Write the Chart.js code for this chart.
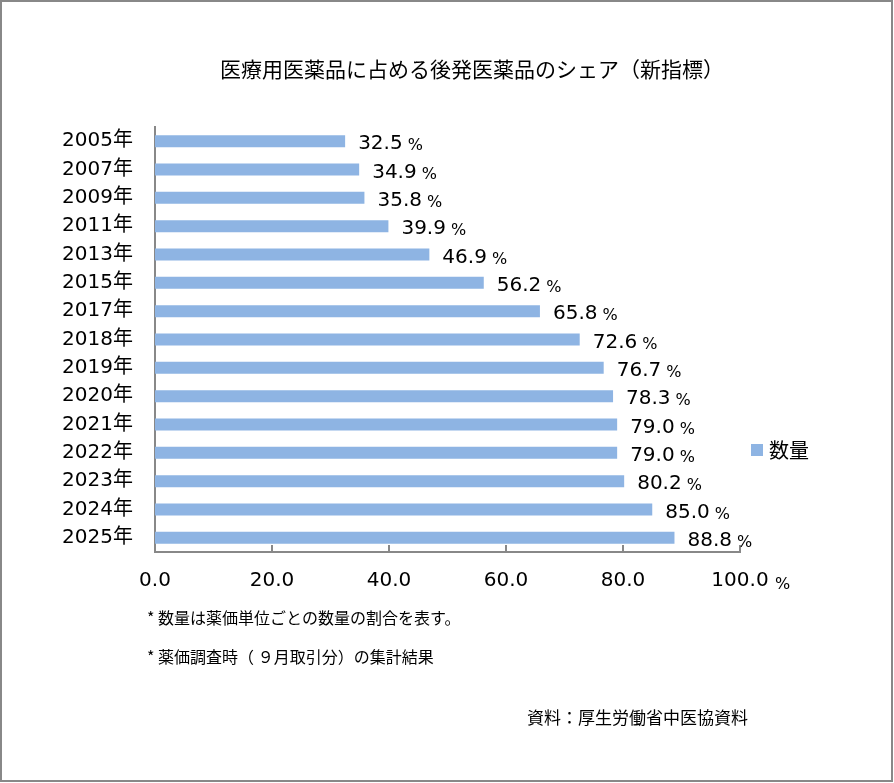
<!DOCTYPE html>
<html>
<head>
  <meta charset="UTF-8" />
  <title>医療用医薬品に占める後発医薬品のシェア</title>
  <script src="https://cdn.jsdelivr.net/npm/chart.js"></script>
  <style>
    body {
      margin: 0;
      background: #fff;
    }
    canvas {
      display: block;
    }
  </style>
</head>
<body>
  <canvas id="share" width="894" height="783"></canvas>

  <script>
    const years = ['2005年', '2007年', '2009年', '2011年', '2013年', '2015年', '2017年', '2018年',
                   '2019年', '2020年', '2021年', '2022年', '2023年', '2024年', '2025年'];
    const shares = [32.5, 34.9, 35.8, 39.9, 46.9, 56.2, 65.8, 72.6, 76.7, 78.3, 79.0, 79.0, 80.2, 85.0, 88.8];
    const xTicks = [0, 20, 40, 60, 80, 100];

    const titleText = '医療用医薬品に占める後発医薬品のシェア（新指標）';
    const notes = ['* 数量は薬価単位ごとの数量の割合を表す。', '* 薬価調査時（ ９月取引分）の集計結果'];
    const sourceText = '資料：厚生労働省中医協資料';
    const seriesName = '数量';

    const JP = '"Noto Sans CJK JP", sans-serif';
    const NUM = '"DejaVu Sans", "Noto Sans CJK JP", sans-serif';
    const barColor = '#8eb4e3';

    // frame, title, notes, legend, value labels, inner ticks
    const extras = {
      id: 'extras',
      beforeDraw(chart) {
        const ctx = chart.ctx;
        ctx.save();
        ctx.fillStyle = '#fff';
        ctx.fillRect(0, 0, chart.width, chart.height);
        ctx.restore();
      },
      afterDraw(chart) {
        const ctx = chart.ctx;
        const xs = chart.scales.x;
        const area = chart.chartArea;
        ctx.save();

        // inner tick marks on x axis
        ctx.strokeStyle = '#888';
        ctx.lineWidth = 2;
        xTicks.slice(1).forEach(v => {
          const px = Math.round(xs.getPixelForValue(v));
          ctx.beginPath();
          ctx.moveTo(px, area.bottom);
          ctx.lineTo(px, area.bottom - 7);
          ctx.stroke();
        });

        // % after 100.0
        ctx.fillStyle = '#000';
        ctx.textBaseline = 'alphabetic';
        ctx.textAlign = 'left';
        ctx.font = '16px ' + NUM;
        ctx.fillText('%', xs.getPixelForValue(100) + 35, 589);

        // value labels
        const meta = chart.getDatasetMeta(0);
        meta.data.forEach((bar, i) => {
          const txt = shares[i].toFixed(1);
          ctx.font = '20px ' + NUM;
          const x0 = bar.x + 13;
          ctx.fillText(txt, x0, bar.y + 8);
          const w = ctx.measureText(txt).width;
          ctx.font = '16px ' + NUM;
          ctx.fillText('%', x0 + w + 5, bar.y + 9);
        });

        // title
        ctx.textBaseline = 'middle';
        ctx.font = '21px ' + JP;
        ctx.textAlign = 'center';
        ctx.fillText(titleText, 472, 69);

        // legend
        ctx.fillStyle = barColor;
        ctx.fillRect(751, 444, 12, 12);
        ctx.fillStyle = '#000';
        ctx.textAlign = 'left';
        ctx.font = '20px ' + JP;
        ctx.fillText(seriesName, 769, 450);

        // notes
        ctx.font = '16px ' + JP;
        ctx.fillText(notes[0], 147, 618);
        ctx.fillText(notes[1], 147, 657);
        ctx.font = '17px ' + JP;
        ctx.fillText(sourceText, 527, 718);

        // frame
        ctx.strokeStyle = '#888';
        ctx.lineWidth = 2;
        ctx.strokeRect(1, 1, chart.width - 3, chart.height - 3);
        ctx.restore();
      }
    };

    new Chart(document.getElementById('share'), {
      type: 'bar',
      data: {
        labels: years,
        datasets: [{
          label: seriesName,
          data: shares,
          backgroundColor: barColor,
          barPercentage: 0.85,
          categoryPercentage: 0.5
        }]
      },
      options: {
        indexAxis: 'y',
        responsive: false,
        animation: false,
        devicePixelRatio: 1,
        layout: {
          padding: { top: 127, right: 154, left: 0, bottom: 0 }
        },
        scales: {
          x: {
            min: 0,
            max: 100,
            afterFit: s => { s.height = 783 - 552; },
            afterBuildTicks: s => { s.ticks = xTicks.map(v => ({ value: v })); },
            grid: { display: false, drawTicks: false },
            border: { display: true, color: '#888', width: 2 },
            ticks: {
              color: '#000',
              font: { family: NUM, size: 20 },
              padding: 17,
              maxRotation: 0,
              callback: v => Number(v).toFixed(1)
            }
          },
          y: {
            afterFit: s => { s.width = 155; },
            grid: { display: false, drawTicks: false },
            border: { display: true, color: '#888', width: 2 },
            ticks: {
              color: '#000',
              font: { family: NUM, size: 20 },
              padding: 22
            }
          }
        },
        plugins: {
          legend: { display: false },
          tooltip: { enabled: false }
        }
      },
      plugins: [extras]
    });
  </script>
</body>
</html>
